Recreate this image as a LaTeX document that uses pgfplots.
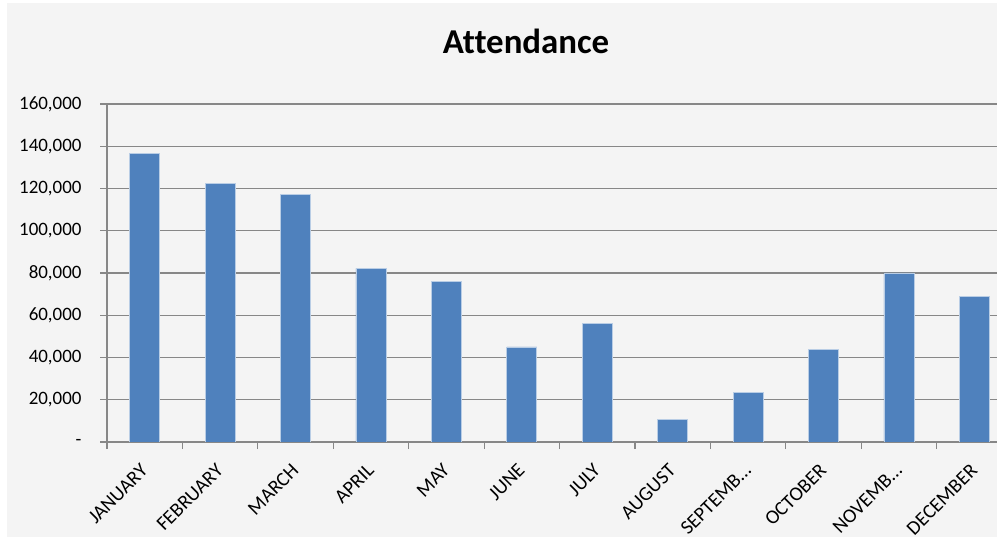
\documentclass[border=0pt]{standalone}
\usepackage{pgfplots}
\pgfplotsset{compat=1.18}
\usepackage{fontspec}
\setmainfont[Ligatures=NoCommon]{Carlito}

\definecolor{barblue}{HTML}{4F81BD}
\definecolor{baredge}{HTML}{B9CDE5}
\definecolor{gridgrey}{HTML}{878787}
\definecolor{bggrey}{HTML}{F4F4F4}

\begin{document}
\begin{tikzpicture}
\useasboundingbox (0,0) rectangle (997bp,539bp);
\fill[white] (0,0) rectangle (997bp,539bp);
\fill[bggrey] (7bp,2bp) rectangle (997bp,536bp);
\node[anchor=base, font=\fontsize{35}{40}\selectfont\bfseries] at (526bp,485bp) {Attendance};
\begin{axis}[
    at={(107bp,97bp)}, anchor=south west,
    scale only axis,
    width=890bp, height=338bp,
    ybar, bar width=30bp, bar shift=0pt,
    xmin=-0.5, xmax=11.3,
    ymin=0, ymax=160000,
    axis x line*=bottom, axis y line*=left,
    axis line style={gridgrey, line width=1.2bp},
    ymajorgrids,
    major grid style={gridgrey, line width=1.2bp},
    tick align=outside,
    major tick length=7bp, minor tick length=7bp,
    every tick/.style={gridgrey, line width=1.2bp},
    major x tick style={draw=none},
    xtick={0,1,...,11},
    minor xtick={-0.5,0.5,...,10.5},
    xticklabels={JANUARY,FEBRUARY,MARCH,APRIL,MAY,JUNE,JULY,AUGUST,SEPTEMB…,OCTOBER,NOVEMB…,DECEMBER},
    xticklabel style={xshift=2bp, yshift=-16bp, rotate=45, anchor=east, font=\fontsize{20}{22}\selectfont},
    scaled y ticks=false,
    ytick={0,20000,...,160000},
    yticklabels={-,{20,000},{40,000},{60,000},{80,000},{100,000},{120,000},{140,000},{160,000}},
    yticklabel style={font=\fontsize{19}{21}\selectfont, xshift=-15bp},
    clip=true,
]
\addplot[fill=barblue, draw=baredge, line width=0.8bp] coordinates {
    (0,136800) (1,122600) (2,117000) (3,82200) (4,75900) (5,45000)
    (6,56300) (7,10500) (8,23600) (9,44000) (10,80000) (11,69000)
};
\end{axis}
\end{tikzpicture}
\end{document}
